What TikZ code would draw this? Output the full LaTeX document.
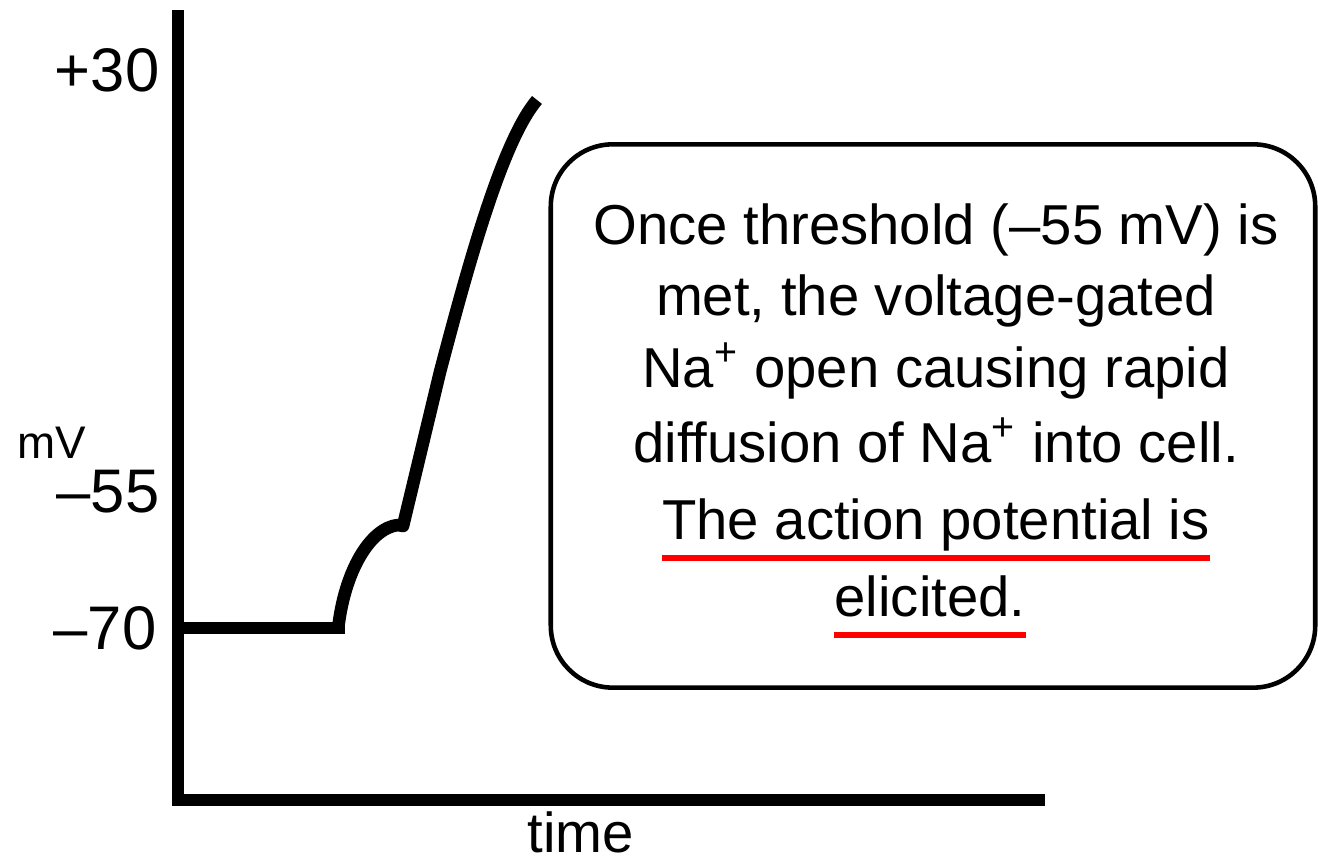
\documentclass[tikz,border=0pt]{standalone}
\usepackage{fontspec}
\setmainfont{Liberation Sans}
\usetikzlibrary{positioning}
\tikzset{
  axisline/.style={line width=3.4pt},
  trace/.style={line width=3.6pt, line join=round},
  ticklabel/.style={anchor=east, inner sep=0pt, font=\fontsize{17.5}{20}\selectfont},
  notebox/.style={draw, line width=1.3pt, rounded corners=0.62cm,
    minimum width=7.64cm, minimum height=5.43cm, inner sep=0pt},
  noteline/.style={anchor=base, inner sep=0pt, font=\fontsize{16}{19}\selectfont},
  underline/.style={draw=red, line width=1.7pt}
}

\begin{document}
\begin{tikzpicture}[x=0.01cm, y=-0.01cm]
  \useasboundingbox (0,0) rectangle (1318,862);

  % axes
  \coordinate (ytop) at (178,10);
  \coordinate (origin) at (178,800);
  \coordinate (xend) at (1045,800);
  \draw[axisline] (ytop) -- (178,806);
  \draw[axisline] (172,800) -- (xend);

  % axis labels
  \node[ticklabel] (p30) at (160,70) {+30};
  \node[ticklabel] (m55) at (160,492) {–55};
  \node[ticklabel] (m70) at (157,628) {–70};
  \node[inner sep=0pt, font=\fontsize{13}{15}\selectfont] (mv) at (52,443) {mV};
  \node[inner sep=0pt, anchor=base, font=\fontsize{16}{19}\selectfont] (time) at (581,853) {time};

  % membrane potential trace
  \draw[trace] (178,628) -- (345,628);
  \draw[trace] (338,630) .. controls (344,572) and (370,528) .. (398,525)
    -- (403,526) -- (440,372) .. controls (470,258) and (503,140) .. (537,100);

  % note box
  \node[notebox] (note) at (933,416) {};
  \node[noteline] (l1) at (936,245) {Once threshold (–55 mV) is};
  \node[noteline] (l2) at (936,316) {met, the voltage-gated};
  \node[noteline] (l3) at (936,388) {Na\textsuperscript{+} open causing rapid};
  \node[noteline] (l4) at (936,463) {diffusion of Na\textsuperscript{+} into cell.};
  \node[noteline] (l5) at (936,540) {The action potential is};
  \node[noteline] (l6) at (930,617) {elicited.};

  % underlines
  \draw[underline] ([yshift=-5pt]l5.base west) -- ([yshift=-5pt]l5.base east);
  \draw[underline] ([yshift=-5pt]l6.base west) -- ([yshift=-5pt]l6.base east);
\end{tikzpicture}
\end{document}
